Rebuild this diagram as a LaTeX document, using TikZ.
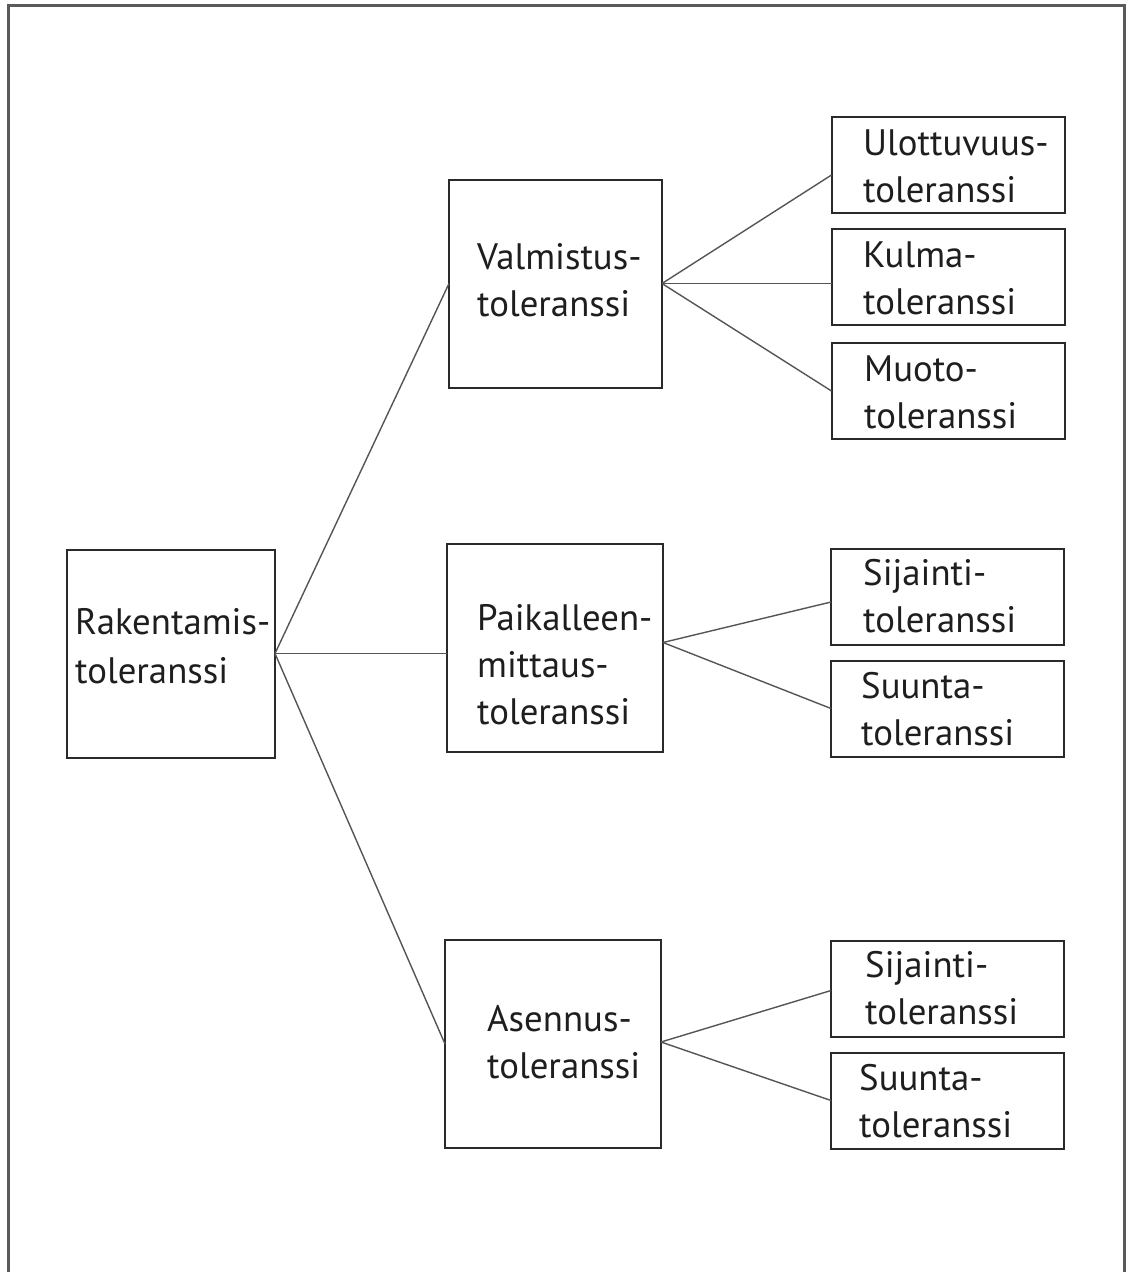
\documentclass[tikz,border=0pt]{standalone}
\usepackage{fontspec}
\setmainfont{PT Sans}
\newlength\tolw
\settowidth\tolw{\fontsize{10pt}{12pt}\selectfont toleranssi}
\edef\fsz{\fpeval{1530/(\the\tolw)}}
\newcommand\diagfont{\fontsize{\fsz pt}{47pt}\selectfont}
\definecolor{boxline}{HTML}{2A2A2A}
\definecolor{conline}{HTML}{555555}
\definecolor{frameline}{HTML}{5A5A5A}
\definecolor{txtcol}{HTML}{1E1E1E}
\tikzset{
  box/.style={draw=boxline, line width=2pt, inner sep=0pt, outer sep=0pt, fill=none},
  bigbox/.style={box, minimum width=#1, minimum height=208pt},
  smallbox/.style={box, minimum width=233pt, minimum height=96pt},
  txt/.style={font=\diagfont, text=txtcol, align=left, inner sep=0pt, anchor=base west},
  con/.style={draw=conline, line width=1.4pt}
}
\begin{document}
\begin{tikzpicture}[x=1pt, y=-1pt]
\useasboundingbox (0,0) rectangle (1127,1272);
\fill[white] (0,0) rectangle (1127,1272);
% outer frame (bottom edge cut off)
\draw[frameline, line width=3pt] (8,1280) -- (8,5.5) -- (1124,5.5) -- (1124,1280);

% boxes
\node[bigbox=208pt] (R) at (171,653.5) {};
\node[bigbox=213pt] (V) at (555.5,283.5) {};
\node[bigbox=216pt] (P) at (555,647.5) {};
\node[bigbox=216pt] (A) at (553,1044) {};
\node[smallbox] (U) at (948,165) {};
\node[smallbox] (K) at (948,277) {};
\node[smallbox] (M) at (948,391) {};
\node[smallbox] (S1) at (947.5,597) {};
\node[smallbox] (T1) at (947.5,708.5) {};
\node[smallbox] (S2) at (947.5,988.5) {};
\node[smallbox] (T2) at (947.5,1100.5) {};

% texts (anchor = baseline of the last line)
\node[txt] (tR) at (75,683) {Rakentamis-\\[2pt]toleranssi};
\node[txt] (tV) at (477,316) {Valmistus-\\toleranssi};
\node[txt] (tP) at (477,724) {Paikalleen-\\mittaus-\\toleranssi};
\node[txt] (tA) at (487,1078) {Asennus-\\toleranssi};
\node[txt] (tU) at (863,202) {Ulottuvuus-\\toleranssi};
\node[txt] (tK) at (863,314) {Kulma-\\toleranssi};
\node[txt] (tM) at (864,428) {Muoto-\\toleranssi};
\node[txt] (tS1) at (863,632) {Sijainti-\\toleranssi};
\node[txt] (tT1) at (861,745) {Suunta-\\toleranssi};
\node[txt] (tS2) at (865,1024) {Sijainti-\\toleranssi};
\node[txt] (tT2) at (859,1137) {Suunta-\\toleranssi};

% connectors
\draw[con] (R.east) -- (V.west);
\draw[con] (R.east) -- (R.east -| P.west);
\draw[con] (R.east) -- (A.west);
\draw[con] (V.east) -- ([yshift=-10pt]U.west);
\draw[con] (V.east) -- (V.east -| K.west);
\draw[con] (V.east) -- (M.west);
\draw[con] ([yshift=5pt]P.east) -- ([yshift=-5pt]S1.west);
\draw[con] ([yshift=5pt]P.east) -- (T1.west);
\draw[con] ([yshift=2pt]A.east) -- ([yshift=-2pt]S2.west);
\draw[con] ([yshift=2pt]A.east) -- (T2.west);
\end{tikzpicture}
\end{document}
